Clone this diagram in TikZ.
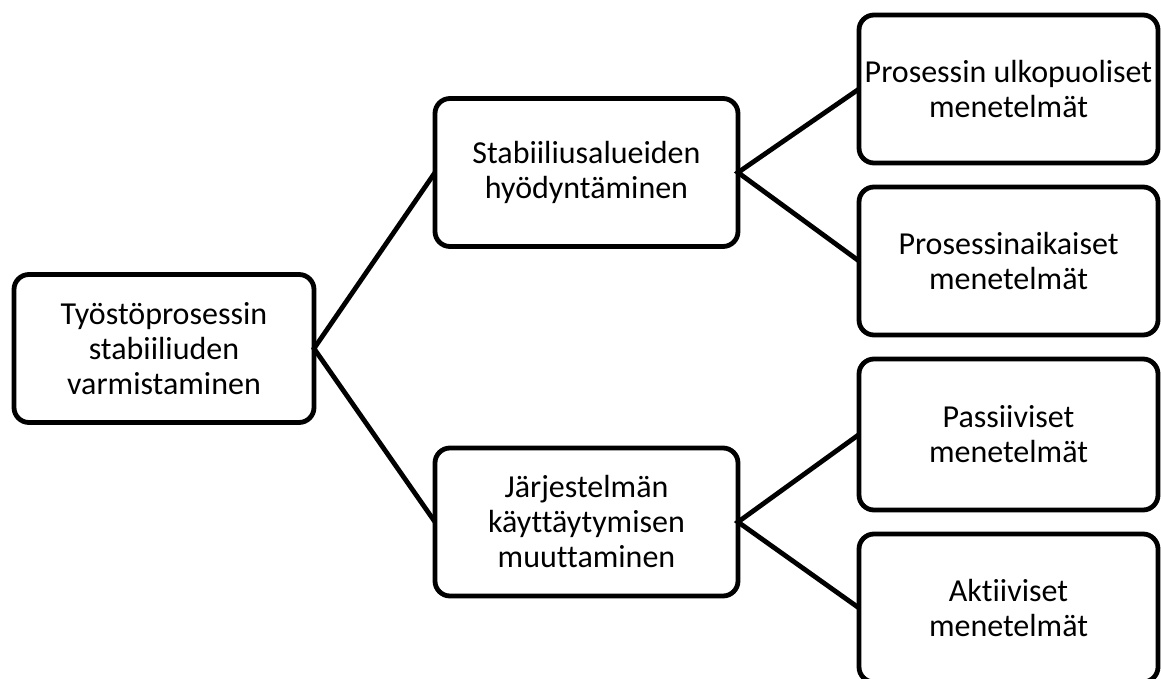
\documentclass[tikz,border=0pt]{standalone}
\usepackage{fontspec}
\setmainfont{Carlito}[Ligatures=NoCommon]
\begin{document}
\begin{tikzpicture}[x=1pt,y=-1pt,
  box/.style={draw=black, fill=white, line width=4.8pt, rounded corners=15pt,
    inner sep=0pt, outer sep=0pt, minimum height=148pt, align=center,
    font=\fontsize{32}{35}\selectfont, text=black},
  conn/.style={line width=4.8pt, black}]
\useasboundingbox (0,0) rectangle (1161,679);
\node[box, minimum width=300pt] (root) at (164,348.5) {Työstöprosessin\\stabiiliuden\\varmistaminen};
\node[box, minimum width=303pt] (a) at (586.5,172.5) {Stabiiliusalueiden\\hyödyntäminen};
\node[box, minimum width=303pt] (b) at (586.5,522) {Järjestelmän\\käyttäytymisen\\muuttaminen};
\node[box, minimum width=299pt] (a1) at (1008.5,89) {Prosessin ulkopuoliset\\menetelmät};
\node[box, minimum width=299pt] (a2) at (1008.5,261) {Prosessinaikaiset\\menetelmät};
\node[box, minimum width=299pt, minimum height=151pt] (b1) at (1008.5,434.5) {Passiiviset\\menetelmät};
\node[box, minimum width=299pt] (b2) at (1008.5,608) {Aktiiviset\\menetelmät};
\draw[conn] (a.west) -- (root.east) -- (b.west);
\draw[conn] (a1.west) -- (a.east) -- (a2.west);
\draw[conn] (b1.west) -- (b.east) -- (b2.west);
\end{tikzpicture}
\end{document}
